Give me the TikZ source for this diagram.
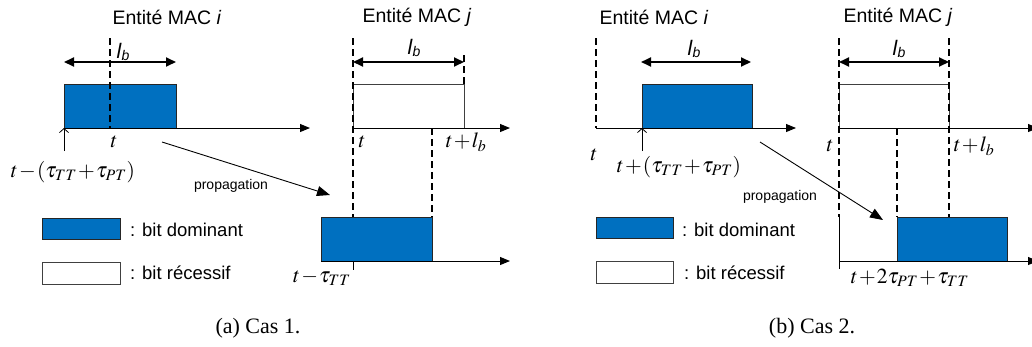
\documentclass[tikz,border=0pt]{standalone}
\usepackage{mathptmx}
\usepackage{fontspec}
\setmainfont{Liberation Sans}
\newfontfamily\seriffont{Liberation Serif}
\usetikzlibrary{arrows.meta}
\definecolor{dom}{RGB}{0,112,192}
\newcommand\tightmath{\medmuskip=1mu\relax\thickmuskip=2mu\relax}
\begin{document}
\begin{tikzpicture}[x=1pt,y=-1pt,
  ax/.style={line width=1pt,-{Triangle[length=10pt,width=8pt]}},
  dimarr/.style={line width=1.8pt,{Triangle[length=10pt,width=9pt]}-{Triangle[length=10pt,width=9pt]}},
  dsh/.style={line width=1.8pt,dash pattern=on 7pt off 4pt},
  prop/.style={line width=0.9pt,-{Triangle[length=13pt,width=10pt]}},
  uparr/.style={line width=0.8pt,-{Straight Barb[length=4pt,width=9pt]}},
  bx/.style={inner sep=0pt,outer sep=0pt,anchor=north west,line width=0.8pt},
  dombox/.style={bx,draw=black!85,fill=dom},
  recbox/.style={bx,draw=black!75,fill=white},
  ttl/.style={font=\fontsize{19.5}{22}\selectfont,inner sep=0pt},
  lb/.style={font=\fontsize{21}{24}\selectfont,inner sep=0pt},
  mth/.style={font={\fontsize{21.5}{24}\selectfont\tightmath},inner sep=0pt},
  prp/.style={font=\fontsize{14}{16}\selectfont,inner sep=0pt},
  leg/.style={font=\fontsize{18.5}{22}\selectfont,inner sep=0pt,anchor=west},
  captxt/.style={font=\seriffont\fontsize{22}{26}\selectfont,inner sep=0pt}
]
\useasboundingbox (0,0) rectangle (1032,346);

% ================= (a) =================
\node[dombox,minimum width=112pt,minimum height=44pt] (aI) at (64,84) {};
\node[recbox,minimum width=111pt,minimum height=44pt] (aJ) at (353,84) {};
\node[dombox,minimum width=111pt,minimum height=44pt] (aJl) at (321,217) {};
\node[ttl] (taI) at (167,17) {Entité MAC \textit{i}};
\node[ttl] (taJ) at (417,17) {Entité MAC \textit{j}};
\coordinate (a1t) at (110,38); \coordinate (a1b) at (110,128);
\draw[dsh] (a1t) -- (a1b);
\coordinate (a2t) at (353,38); \coordinate (a2b) at (353,217);
\draw[dsh] (a2t) -- (a2b);
\coordinate (a3t) at (432,128); \coordinate (a3b) at (432,217);
\draw[dsh] (a3t) -- (a3b);
\coordinate (a4t) at (464,55); \coordinate (a4b) at (464,84);
\draw[dsh] (a4t) -- (a4b);
\coordinate (aax1s) at (64,128); \coordinate (aax1e) at (310,128);
\draw[ax] (aax1s) -- (aax1e);
\coordinate (aax2s) at (353,128); \coordinate (aax2e) at (510,128);
\draw[ax] (aax2s) -- (aax2e);
\coordinate (aax3s) at (321,261); \coordinate (aax3e) at (510,261);
\draw[ax] (aax3s) -- (aax3e);
\coordinate (atick) at (353,270);
\draw[line width=0.8pt] (aJl.south west -| a2b) -- (atick);
\coordinate (ad1s) at (64,62); \coordinate (ad1e) at (176,62);
\draw[dimarr] (ad1s) -- (ad1e);
\node[lb] (alb1) at (123,52) {\textit{l}\raisebox{-0.25ex}{\fontsize{14}{16}\selectfont\textit{b}}};
\coordinate (ad2s) at (353,62); \coordinate (ad2e) at (464,62);
\draw[dimarr] (ad2s) -- (ad2e);
\node[lb] (alb2) at (414,48) {\textit{l}\raisebox{-0.25ex}{\fontsize{14}{16}\selectfont\textit{b}}};
\coordinate (aup) at (64,151);
\draw[uparr] (aup) -- (aI.south west);
\node[mth] (at1) at (114,142) {$t$};
\node[mth] (at2) at (73,172) {$t-(\tau_{TT}+\tau_{PT})$};
\node[mth] (at3) at (362,142) {$t$};
\node[mth] (at4) at (466,142) {$t+l_b$};
\node[mth] (at5) at (322,278) {$t-\tau_{TT}$};
\coordinate (aps) at (162,142); \coordinate (ape) at (330,195);
\draw[prop] (aps) -- (ape);
\node[prp] (apl) at (231,186) {propagation};
\node[dombox,minimum width=78pt,minimum height=21pt] (aL1) at (42,218) {};
\node[recbox,minimum width=78pt,minimum height=22pt] (aL2) at (42,262) {};
\node[leg] (aLt1) at (130,230) {: bit dominant};
\node[leg] (aLt2) at (130,273) {: bit récessif};
\node[captxt] (acap) at (258,328) {(a) Cas 1.};

% ================= (b) =================
\node[dombox,minimum width=110pt,minimum height=44pt] (bI) at (642,84) {};
\node[recbox,minimum width=110pt,minimum height=44pt] (bJ) at (839,84) {};
\node[dombox,minimum width=110pt,minimum height=44pt] (bJl) at (897,217) {};
\node[ttl] (tbI) at (654,17) {Entité MAC \textit{i}};
\node[ttl] (tbJ) at (898,17) {Entité MAC \textit{j}};
\coordinate (b1t) at (596,38); \coordinate (b1b) at (596,128);
\draw[dsh] (b1t) -- (b1b);
\coordinate (b2t) at (839,38); \coordinate (b2b) at (839,217);
\draw[dsh] (b2t) -- (b2b);
\coordinate (b3t) at (897,128); \coordinate (b3b) at (897,217);
\draw[dsh] (b3t) -- (b3b);
\coordinate (b4t) at (949,38); \coordinate (b4b) at (949,217);
\draw[dsh] (b4t) -- (b4b);
\coordinate (bax1s) at (596,128); \coordinate (bax1e) at (796,128);
\draw[ax] (bax1s) -- (bax1e);
\coordinate (bax2s) at (839,128); \coordinate (bax2e) at (1038,128);
\draw[ax] (bax2s) -- (bax2e);
\coordinate (bax3s) at (839,261); \coordinate (bax3e) at (1038,261);
\draw[ax] (bax3s) -- (bax3e);
\coordinate (bvb) at (839,269);
\draw[line width=0.8pt] (b2b) -- (bvb);
\coordinate (bd1s) at (641,62); \coordinate (bd1e) at (751,62);
\draw[dimarr] (bd1s) -- (bd1e);
\node[lb] (blb1) at (694,49) {\textit{l}\raisebox{-0.25ex}{\fontsize{14}{16}\selectfont\textit{b}}};
\coordinate (bd2s) at (839,62); \coordinate (bd2e) at (949,62);
\draw[dimarr] (bd2s) -- (bd2e);
\node[lb] (blb2) at (899,49) {\textit{l}\raisebox{-0.25ex}{\fontsize{14}{16}\selectfont\textit{b}}};
\coordinate (bup) at (642,151);
\draw[uparr] (bup) -- (bI.south west);
\node[mth] (bt1) at (594,155) {$t$};
\node[mth] (bt2) at (679,167) {$t+(\tau_{TT}+\tau_{PT})$};
\node[mth] (bt3) at (830,146) {$t$};
\node[mth] (bt4) at (974,146) {$t+l_b$};
\node[mth] (bt5) at (910,278) {$t+2\tau_{PT}+\tau_{TT}$};
\coordinate (bps) at (760,142); \coordinate (bpe) at (883,220);
\draw[prop] (bps) -- (bpe);
\node[prp] (bpl) at (780,197) {propagation};
\node[dombox,minimum width=77pt,minimum height=21pt] (bL1) at (596,217) {};
\node[recbox,minimum width=77pt,minimum height=22pt] (bL2) at (596,261) {};
\node[leg] (bLt1) at (682,230) {: bit dominant};
\node[leg] (bLt2) at (684,273) {: bit récessif};
\node[captxt] (bcap) at (812,328) {(b) Cas 2.};
\end{tikzpicture}
\end{document}
